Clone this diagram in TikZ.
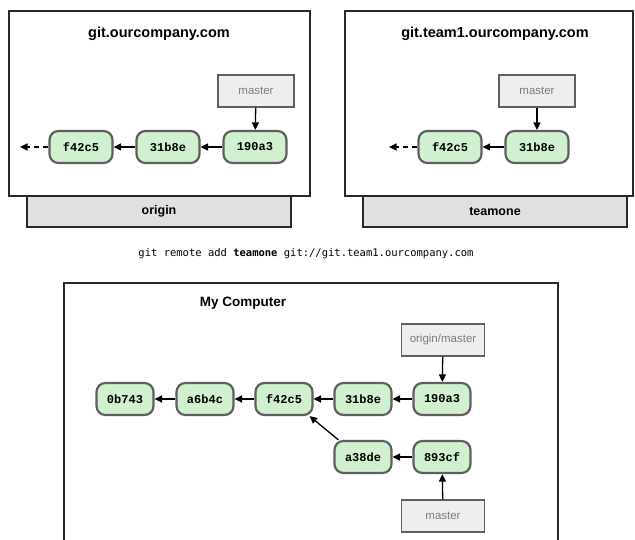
\documentclass[tikz,border=0pt]{standalone}
\usepackage{fontspec}
\setmainfont{Liberation Sans}
\setmonofont{Liberation Mono}
\newfontfamily\cmdfont{DejaVu Sans Mono}
\usepackage{xcolor}
\definecolor{commitgreen}{RGB}{208, 240, 208}
\definecolor{commitborder}{RGB}{95, 95, 95}
\definecolor{branchgray}{RGB}{238, 238, 238}
\definecolor{labelgray}{RGB}{125, 125, 125}
\definecolor{tabgray}{RGB}{224, 224, 224}
\definecolor{serverborder}{RGB}{40, 40, 40}
\usetikzlibrary{arrows.meta, positioning}

\begin{document}
\begin{tikzpicture}[x=1pt, y=-1pt,
  commit/.style={draw=commitborder, line width=2.2pt, fill=commitgreen, rounded corners=9pt,
    minimum width=57pt, minimum height=32pt, inner sep=0pt,
    font=\ttfamily\bfseries\fontsize{12}{12}\selectfont},
  branch/.style={draw=commitborder, line width=1.3pt, fill=branchgray, minimum width=76pt,
    minimum height=32pt, inner sep=0pt, text=labelgray, font=\fontsize{11.5}{12}\selectfont},
  server/.style={draw=serverborder, line width=1.5pt, fill=white},
  tab/.style={draw=serverborder, line width=1.5pt, fill=tabgray, minimum width=264pt,
    minimum height=31pt, inner sep=0pt, font=\bfseries\fontsize{12.5}{13}\selectfont},
  title/.style={font=\bfseries\fontsize{14.5}{15}\selectfont},
  parent/.style={-{Triangle[length=7.5pt, width=7pt]}, line width=1.3pt}
]
  \useasboundingbox (0,0) rectangle (635,539);
  \clip (0,0) rectangle (635,539);

  % --- Server 1: origin ---
  \node[tab] (origintab) at (159,211.5) {origin};
  \draw[server] (9,11) rectangle (310,196);
  \node[title] (origintitle) at (159,34) {git.ourcompany.com};
  \node[branch] (omaster) at (256,91) {master};
  \node[commit, minimum width=63pt] (o190a3) at (255,147) {190a3};
  \node[commit, minimum width=63pt] (o31b8e) at (168,147) {31b8e};
  \node[commit, minimum width=63pt] (of42c5) at (81,147) {f42c5};
  \coordinate (oold) at (20,147);
  \draw[parent] (omaster) -- (o190a3);
  \draw[parent] (o190a3) -- (o31b8e);
  \draw[parent] (o31b8e) -- (of42c5);
  \draw[parent, dash pattern=on 5pt off 4pt] (of42c5) -- (oold);

  % --- Server 2: teamone ---
  \node[tab] (teamtab) at (495,211.5) {teamone};
  \draw[server] (345,11) rectangle (633,196);
  \node[title] (teamtitle) at (495,34) {git.team1.ourcompany.com};
  \node[branch] (tmaster) at (537,91) {master};
  \node[commit, minimum width=63pt] (t31b8e) at (537,147) {31b8e};
  \node[commit, minimum width=63pt] (tf42c5) at (450,147) {f42c5};
  \coordinate (told) at (389,147);
  \draw[parent] (tmaster) -- (t31b8e);
  \draw[parent] (t31b8e) -- (tf42c5);
  \draw[parent, dash pattern=on 5pt off 4pt] (tf42c5) -- (told);

  % command
  \node[font=\cmdfont\fontsize{10.5}{11}\selectfont] (cmd) at (306,254)
    {git remote add \textbf{teamone} git://git.team1.ourcompany.com};

  % --- My Computer ---
  \draw[server] (64,283) rectangle (558,560);
  \node[title, font=\bfseries\fontsize{13.5}{14}\selectfont] (mytitle) at (243,303) {My Computer};
  \node[branch, minimum width=83pt] (omasterref) at (443,340) {origin/master};
  \node[commit] (c190a3) at (442,399) {190a3};
  \node[commit] (c31b8e) at (363,399) {31b8e};
  \node[commit] (cf42c5) at (284,399) {f42c5};
  \node[commit] (ca6b4c) at (205,399) {a6b4c};
  \node[commit] (c0b743) at (125,399) {0b743};
  \node[commit] (c893cf) at (442,457) {893cf};
  \node[commit] (ca38de) at (363,457) {a38de};
  \node[branch, minimum width=83pt] (mymaster) at (443,516) {master};
  \draw[parent] (omasterref) -- (c190a3);
  \draw[parent] (c190a3) -- (c31b8e);
  \draw[parent] (c31b8e) -- (cf42c5);
  \draw[parent] (cf42c5) -- (ca6b4c);
  \draw[parent] (ca6b4c) -- (c0b743);
  \draw[parent] (c893cf) -- (ca38de);
  \draw[parent] ([xshift=5pt]ca38de.north west) -- ([xshift=-4pt]cf42c5.south east);
  \draw[parent] (mymaster) -- (c893cf);
\end{tikzpicture}
\end{document}
